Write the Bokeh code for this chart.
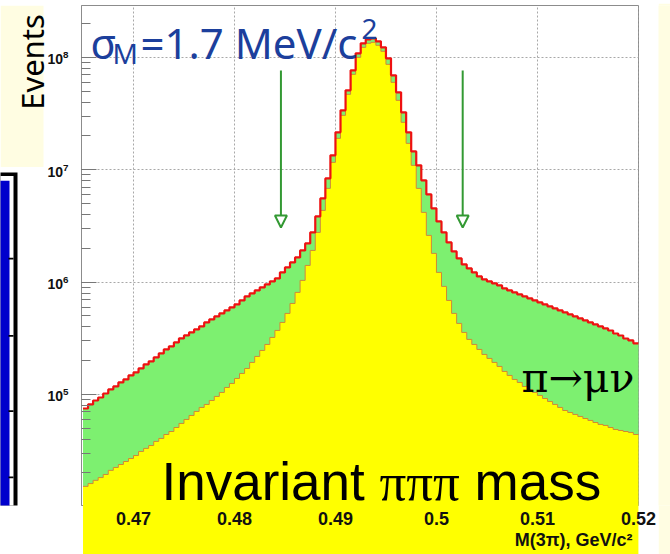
import numpy as np
from math import pi, log10
from bokeh.plotting import figure
from bokeh.layouts import row, column
from bokeh.models import (Range1d, FixedTicker, Label, Arrow, NormalHead, Title)
from bokeh.embed import file_html
from bokeh.resources import INLINE

# ---------------- data ----------------
bin_start = 0.465      # GeV, left edge of first bin
bin_width = 0.0005     # GeV (0.5 MeV bins)

# total events per bin (red outline = signal + pi->mu nu)
total_events = [
    7.50e4, 8.15e4, 8.84e4, 9.40e4, 1.02e5, 1.108e5, 1.178e5, 1.279e5, 1.36e5, 1.476e5,
    1.57e5, 1.704e5, 1.85e5, 1.967e5, 2.136e5, 2.318e5, 2.516e5, 2.676e5, 2.905e5, 3.153e5,
    3.353e5, 3.566e5, 3.792e5, 4.032e5, 4.377e5, 4.655e5, 4.95e5, 5.265e5, 5.598e5, 5.953e5,
    6.33e5, 6.872e5, 7.46e5, 7.93e5, 8.44e5, 8.97e5, 9.54e5, 1.015e6, 1.079e6, 1.22e6,
    1.352e6, 1.498e6, 1.66e6, 1.915e6, 2.212e6, 2.771e6, 3.847e6, 5.565e6, 8.385e6, 1.344e7,
    2.154e7, 3.381e7, 5.095e7, 7.678e7, 1.088e8, 1.336e8, 1.45e8, 1.48e8, 1.391e8, 1.23e8,
    9.82e7, 6.93e7, 4.89e7, 3.245e7, 2.154e7, 1.458e7, 1.095e7, 8.05e6, 6.04e6, 4.534e6,
    3.473e6, 2.771e6, 2.258e6, 1.877e6, 1.626e6, 1.438e6, 1.324e6, 1.22e6, 1.124e6, 1.057e6,
    1.015e6, 9.74e5, 9.35e5, 8.79e5, 8.44e5, 8.10e5, 7.77e5, 7.46e5, 7.16e5, 6.87e5,
    6.60e5, 6.33e5, 6.08e5, 5.83e5, 5.60e5, 5.37e5, 5.16e5, 4.95e5, 4.75e5, 4.56e5,
    4.38e5, 4.20e5, 4.03e5, 3.87e5, 3.71e5, 3.49e5, 3.35e5, 3.15e5, 3.03e5, 2.85e5,
]

# signal (K -> 3 pi) events per bin (yellow)
signal_events = [
    1.52e4, 1.61e4, 1.72e4, 1.82e4, 1.94e4, 2.11e4, 2.24e4, 2.38e4, 2.53e4, 2.69e4,
    2.86e4, 3.11e4, 3.31e4, 3.51e4, 3.82e4, 4.06e4, 4.40e4, 4.68e4, 5.08e4, 5.52e4,
    5.99e4, 6.50e4, 7.06e4, 7.66e4, 8.15e4, 8.84e4, 9.60e4, 1.042e5, 1.154e5, 1.253e5,
    1.388e5, 1.538e5, 1.704e5, 1.928e5, 2.18e5, 2.465e5, 2.788e5, 3.218e5, 3.715e5, 4.377e5,
    5.265e5, 6.46e5, 8.10e5, 1.036e6, 1.408e6, 1.915e6, 2.771e6, 4.35e6, 6.83e6, 1.164e7,
    1.904e7, 3.051e7, 4.694e7, 7.072e7, 1.002e8, 1.23e8, 1.336e8, 1.363e8, 1.282e8, 1.134e8,
    8.68e7, 6.00e7, 4.15e7, 2.644e7, 1.719e7, 1.095e7, 6.83e6, 4.176e6, 2.606e6, 1.802e6,
    1.22e6, 9.16e5, 6.87e5, 5.265e5, 4.29e5, 3.566e5, 3.09e5, 2.788e5, 2.516e5, 2.271e5,
    2.092e5, 1.928e5, 1.776e5, 1.603e5, 1.476e5, 1.36e5, 1.279e5, 1.178e5, 1.108e5, 1.042e5,
    9.80e4, 9.21e4, 8.66e4, 8.15e4, 7.66e4, 7.20e4, 6.91e4, 6.64e4, 6.37e4, 6.11e4,
    5.87e4, 5.63e4, 5.41e4, 5.30e4, 5.08e4, 4.88e4, 4.78e4, 4.68e4, 4.59e4, 4.40e4,
]

x_ticks = [0.47, 0.48, 0.49, 0.5, 0.51, 0.52]
cut_positions = [0.4846, 0.5026]          # GeV, selection window arrows
x_title = "M(3\u03c0), GeV/c\u00b2"
y_title = "Events"
resolution_text = "=1.7 MeV/c"
bg_label = "\u03c0\u2192\u03bc\u03bd"

# ---------------- geometry (absolute page pixels) ----------------
W, H = 670, 554
TOP_STRIP = 3
LEFT_W = 43          # where the plot image starts
LEFT_CANVAS = 60     # left strip canvas (overlaps the plot's transparent margin)
RIGHT_X = 658
FL, FR, FT, FB = 81, 638, 5, 505
X0, X1 = 0.46485, 0.52001
Y0, Y1 = 1.027e4, 2.9e8
PALE = "#fffde2"


def sx(px):
    return X0 + (px - FL) * (X1 - X0) / (FR - FL)


def sy(py):
    return 10 ** (log10(Y1) - (py - FT) * (log10(Y1) - log10(Y0)) / (FB - FT))


def strip(w, h, color):
    f = figure(width=w, height=h, output_backend="svg", toolbar_location=None,
               x_range=Range1d(0, w), y_range=Range1d(0, h),
               min_border=0, background_fill_color=color, border_fill_color=color,
               outline_line_color=None)
    f.axis.visible = False
    f.grid.visible = False
    return f


# ---------------- main plot ----------------
MW, MH = RIGHT_X - LEFT_W, H - TOP_STRIP
p = figure(width=MW, height=MH, output_backend="svg", toolbar_location=None,
           x_range=Range1d(X0, X1), y_range=Range1d(Y0, Y1), y_axis_type="log",
           min_border_left=FL - LEFT_W, min_border_right=RIGHT_X - FR,
           min_border_top=FT - TOP_STRIP, min_border_bottom=H - FB,
           background_fill_color="white", border_fill_color=None,
           outline_line_color="#8c8c8c", outline_line_width=1)
p.margin = (0, 0, 0, LEFT_W - LEFT_CANVAS)

p.xaxis.ticker = FixedTicker(ticks=x_ticks)
p.xaxis.major_label_overrides = {0.5: "0.5"}
p.xaxis.major_label_text_font = "Liberation Sans"
p.xaxis.major_label_text_font_style = "bold"
p.xaxis.major_label_text_font_size = "18px"
p.xaxis.major_label_text_color = "#111111"
p.xaxis.axis_line_color = None
p.xaxis.major_tick_line_color = None
p.xaxis.minor_tick_line_color = None
p.xaxis.major_tick_in = 0
p.xaxis.major_tick_out = 0
p.xaxis.major_label_standoff = 6

p.yaxis.major_label_text_font = "Liberation Sans"
p.yaxis.major_label_text_font_style = "bold"
p.yaxis.major_label_text_font_size = "14px"
p.yaxis.major_label_text_color = "#111111"
p.yaxis.axis_line_color = "#8c8c8c"
p.yaxis.major_tick_line_color = "#777777"
p.yaxis.minor_tick_line_color = "#777777"
p.yaxis.major_tick_in = 15
p.yaxis.major_tick_out = 0
p.yaxis.minor_tick_in = 9
p.yaxis.minor_tick_out = 0
p.yaxis.major_label_standoff = 13

p.xgrid.ticker = FixedTicker(ticks=x_ticks)
p.grid.grid_line_color = "#a8a8a8"
p.grid.grid_line_dash = "2 2"
p.grid.grid_line_width = 1

p.add_layout(Title(text=x_title, align="right", offset=6, standoff=0,
                   text_font="Liberation Sans", text_font_style="bold",
                   text_font_size="18px", text_color="#111111"), "below")

# histogram
n = len(total_events)
edges = bin_start + bin_width * np.arange(n + 1)
step_x = np.repeat(edges, 2)[1:-1]
step_tot = np.repeat(np.array(total_events), 2)
step_sig = np.repeat(np.array(signal_events), 2)
floor = 1.0

p.patch(np.concatenate([[edges[0]], step_x, [edges[-1]]]),
        np.concatenate([[floor], step_sig, [floor]]),
        fill_color="#ffff00", line_color=None, level="guide")
p.patch(np.concatenate([step_x, step_x[::-1]]),
        np.concatenate([step_tot, step_sig[::-1]]),
        fill_color="#7df070", line_color=None, level="guide")
p.line(step_x, step_sig, line_color="#d08a30", line_width=1, level="guide")
p.line(step_x, step_tot, line_color="#ee1111", line_width=2.2, level="guide")

# arrows marking the window
green = "#339933"
for cx in cut_positions:
    p.add_layout(Arrow(end=NormalHead(size=12, fill_color=None, line_color=green, line_width=2),
                       x_start=cx, y_start=sy(70), x_end=cx, y_end=sy(227),
                       line_color=green, line_width=2))

# texts inside the frame
blue = "#1c3f9c"
p.add_layout(Label(x=sx(90), y=sy(42), text="\u03c3", text_font="Noto Sans",
                   text_font_size="42px", text_color=blue, text_baseline="alphabetic"))
p.add_layout(Label(x=sx(112), y=sy(52), text="M", text_font="Noto Sans",
                   text_font_size="28px", text_color=blue, text_baseline="alphabetic"))
p.add_layout(Label(x=sx(140), y=sy(42), text=resolution_text, text_font="Noto Sans",
                   text_font_size="42px", text_color=blue, text_baseline="alphabetic"))
p.add_layout(Label(x=sx(361), y=sy(28), text="2", text_font="Noto Sans",
                   text_font_size="28px", text_color=blue, text_baseline="alphabetic"))

p.add_layout(Label(x=sx(161), y=sy(481), text="Invariant", text_font="Liberation Sans",
                   text_font_size="53px", text_color="#000000", text_baseline="alphabetic"))
p.add_layout(Label(x=sx(379), y=sy(481), text="\u03c0\u03c0\u03c0", text_font="Liberation Serif",
                   text_font_size="53px", text_color="#000000", text_baseline="alphabetic"))
p.add_layout(Label(x=sx(474), y=sy(481), text="mass", text_font="Liberation Sans",
                   text_font_size="53px", text_color="#000000", text_baseline="alphabetic"))

p.add_layout(Label(x=sx(521), y=sy(377), text=bg_label, text_font="DejaVu Serif",
                   text_font_size="41px", text_color="#000000", text_baseline="alphabetic"))

# ---------------- slide pieces around the plot ----------------
top = strip(W, TOP_STRIP, PALE)

LH = H - TOP_STRIP
left = strip(LEFT_CANVAS, LH, "#ffffff")


def ly(py):  # absolute page y -> left strip y (upwards)
    return LH - (py - TOP_STRIP)


left.quad(left=0, right=LEFT_W, top=ly(TOP_STRIP), bottom=ly(181), fill_color=PALE, line_color=None)
left.quad(left=-5, right=17, top=ly(187), bottom=ly(H + 10), fill_color="#000000", line_color=None)
left.quad(left=-5, right=13, top=ly(191), bottom=ly(H + 10), fill_color="#ffffff", line_color=None)
left.quad(left=-5, right=9, top=ly(196), bottom=ly(H + 10), fill_color="#0000cc", line_color=None)
left.quad(left=[8] * 4, right=[13] * 4,
          top=[ly(v - 1) for v in (282, 367, 450, 523)],
          bottom=[ly(v + 1) for v in (282, 367, 450, 523)],
          fill_color="#000000", line_color=None)
left.add_layout(Label(x=31, y=ly(118), text=y_title, angle=pi / 2, text_font="Noto Sans",
                      text_font_size="31px", text_color="#000000", text_align="left",
                      text_baseline="middle"))

right = strip(W - RIGHT_X, LH, PALE)

layout = column(top, row(left, p, right, spacing=0), spacing=0)

open("out.html", "w").write(file_html(layout, INLINE))
